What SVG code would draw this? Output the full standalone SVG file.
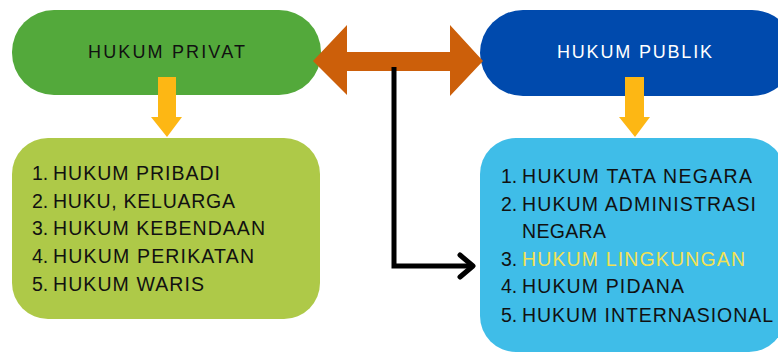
<svg xmlns="http://www.w3.org/2000/svg" width="778" height="354" viewBox="0 0 778 354">
<style>
.t{font-family:"Liberation Sans","Open Sans",Arial,sans-serif;font-size:19.5px;fill:#111}
.h{font-family:"Liberation Sans","Open Sans",Arial,sans-serif;font-size:18px;letter-spacing:2px}
.n{font-family:"Liberation Sans","Open Sans",Arial,sans-serif;font-size:19.5px;fill:#111}
</style>
<rect width="778" height="354" fill="#ffffff"/>
<g id="privat">
<rect x="12" y="10" width="309" height="85" rx="42" fill="#53A93B"/>
<text class="h" x="88" y="58" fill="#111" textLength="159">HUKUM PRIVAT</text>
</g>
<g id="publik">
<rect x="480" y="10" width="315" height="86" rx="43" fill="#004AAD"/>
<text class="h" x="557" y="58" fill="#ffffff" textLength="157">HUKUM PUBLIK</text>
</g>
<g id="privat-list">
<rect x="12" y="138" width="308" height="181" rx="36" fill="#AEC948"/>
<text class="n" x="32" y="180">1.</text><text class="t" x="53" y="180" textLength="167" lengthAdjust="spacing">HUKUM PRIBADI</text>
<text class="n" x="32" y="208">2.</text><text class="t" x="53" y="208" textLength="182" lengthAdjust="spacing">HUKU, KELUARGA</text>
<text class="n" x="32" y="235">3.</text><text class="t" x="53" y="235" textLength="212" lengthAdjust="spacing">HUKUM KEBENDAAN</text>
<text class="n" x="32" y="263">4.</text><text class="t" x="53" y="263" textLength="201" lengthAdjust="spacing">HUKUM PERIKATAN</text>
<text class="n" x="32" y="291">5.</text><text class="t" x="53" y="291" textLength="151" lengthAdjust="spacing">HUKUM WARIS</text>
</g>
<g id="publik-list">
<rect x="480" y="138" width="305" height="214" rx="36" fill="#3FBDE8"/>
<text class="n" x="501" y="183">1.</text><text class="t" x="522" y="183" textLength="230" lengthAdjust="spacing">HUKUM TATA NEGARA</text>
<text class="n" x="501" y="211">2.</text><text class="t" x="522" y="211" textLength="234" lengthAdjust="spacing">HUKUM ADMINISTRASI</text>
<text class="t" x="522" y="238" textLength="84" lengthAdjust="spacing">NEGARA</text>
<text class="n" x="501" y="266">3.</text><text class="t" x="522" y="266" textLength="223" lengthAdjust="spacing" style="fill:#F2E155">HUKUM LINGKUNGAN</text>
<text class="n" x="501" y="293">4.</text><text class="t" x="522" y="293" textLength="162" lengthAdjust="spacing">HUKUM PIDANA</text>
<text class="n" x="501" y="322">5.</text><text class="t" x="522" y="322" textLength="251" lengthAdjust="spacing">HUKUM INTERNASIONAL</text>
</g>
<g id="connectors">
<polygon points="313,61 347,25 347,52 450,52 450,25 483,61 450,96 450,71 347,71 347,95" fill="#CC5F0A"/>
<polygon points="158,77 176,77 176,117 182,117 167,137 151,117 158,117" fill="#FDB714"/>
<polygon points="625,77 644,77 644,117 650,117 635,137 619,117 625,117" fill="#FDB714"/>
<polyline points="394,67 394,266 472,266" fill="none" stroke="#000" stroke-width="5"/>
<polyline points="460,255 473,266 460,277" fill="none" stroke="#000" stroke-width="5" stroke-linecap="round" stroke-linejoin="round"/>
</g>
</svg>
